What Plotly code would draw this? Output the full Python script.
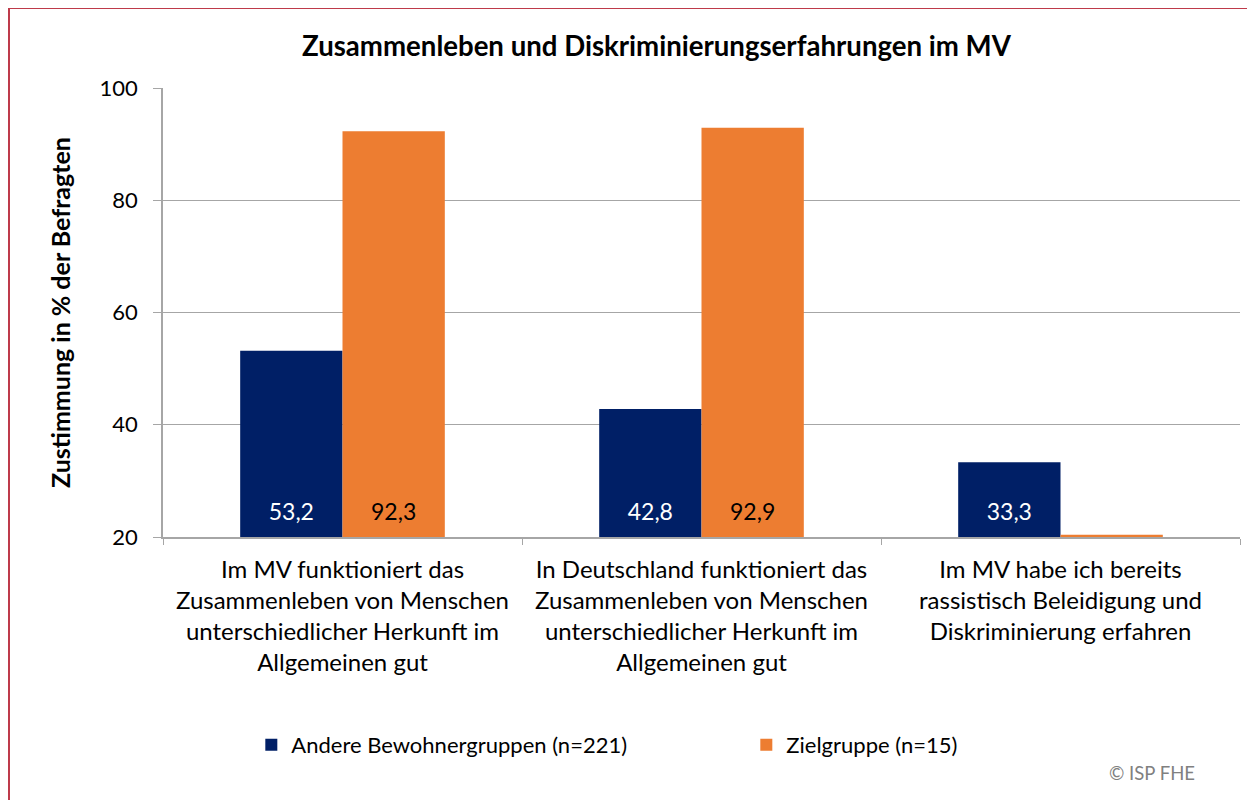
import plotly.graph_objects as go

NAVY = "#001f66"
ORANGE = "#ed7d31"
GRID = "#a6a6a6"
FONT = "Lato, 'Open Sans', sans-serif"

categories = [
    "Im MV funktioniert das<br>Zusammenleben von Menschen<br>unterschiedlicher Herkunft im<br>Allgemeinen gut",
    "In Deutschland funktioniert das<br>Zusammenleben von Menschen<br>unterschiedlicher Herkunft im<br>Allgemeinen gut",
    "Im MV habe ich bereits<br>rassistisch Beleidigung und<br>Diskriminierung erfahren",
]
andere = [53.2, 42.8, 33.3]
ziel = [92.3, 92.9, 0.0]
series_names = ["Andere Bewohnergruppen (n=221)", "Zielgruppe (n=15)"]

Y_MIN, Y_MAX = 20, 100
y_ticks = [20, 40, 60, 80, 100]


def fmt(v):
    return f"{v:.1f}".replace(".", ",")


def bar_trace(values, name, color, text_color):
    # Balken beginnen an der Achse (20); Werte darunter nur als dünne Linie wie in Excel
    heights = [max(v - Y_MIN, 0.4) for v in values]
    # kleine Leerzeile unten, damit die Beschriftung etwas über der Achse sitzt
    labels = [
        f"<span style='font-size:23px'>{fmt(v)}</span><br> " if v > Y_MIN else ""
        for v in values
    ]
    return go.Bar(
        x=categories,
        y=heights,
        base=Y_MIN,
        name=name,
        marker=dict(color=color, line=dict(width=0)),
        text=labels,
        textposition="inside",
        insidetextanchor="start",
        textangle=0,
        textfont=dict(family=FONT, size=9, color=text_color),
        customdata=values,
        hovertemplate="%{customdata}<extra>" + name + "</extra>",
    )


fig = go.Figure()
fig.add_trace(bar_trace(andere, series_names[0], NAVY, "white"))
fig.add_trace(bar_trace(ziel, series_names[1], ORANGE, "black"))

fig.update_layout(
    width=1247,
    height=792,
    template="plotly_white",
    paper_bgcolor="white",
    plot_bgcolor="white",
    font=dict(family=FONT, size=20, color="black"),
    margin=dict(l=155, r=15, t=80, b=263),
    barmode="group",
    bargap=0.43,
    bargroupgap=0,
    title=dict(
        text="<b>Zusammenleben und Diskriminierungserfahrungen im MV</b>",
        x=0.52,
        xanchor="center",
        y=0.951,
        yanchor="middle",
        font=dict(family=FONT, size=27.6, color="black"),
    ),
    legend=dict(
        orientation="h",
        x=0.082,
        xanchor="left",
        y=-0.463,
        yanchor="middle",
        font=dict(family=FONT, size=22, color="black"),
        entrywidth=450,
        entrywidthmode="pixels",
    ),
    showlegend=True,
)

fig.update_yaxes(
    range=[Y_MIN, Y_MAX],
    tickvals=y_ticks,
    tickfont=dict(family=FONT, size=22, color="black"),
    ticks="outside",
    ticklen=8,
    tickcolor=GRID,
    ticklabelstandoff=11,
    showgrid=True,
    gridcolor=GRID,
    gridwidth=1.2,
    showline=True,
    linecolor=GRID,
    linewidth=1.5,
    zeroline=False,
    title=dict(
        text="<b>Zustimmung in % der Befragten</b>",
        font=dict(family=FONT, size=25, color="black"),
        standoff=22,
    ),
)

fig.update_xaxes(
    tickfont=dict(family=FONT, size=24, color="black"),
    ticks="outside",
    tickson="boundaries",
    ticklen=6,
    tickcolor=GRID,
    ticklabelstandoff=10,
    showline=True,
    linecolor=GRID,
    linewidth=1.5,
    showgrid=False,
    tickangle=0,
)

# Copyright-Vermerk
fig.add_annotation(
    text="© ISP FHE",
    xref="paper",
    yref="paper",
    x=0.918,
    y=-0.525,
    xanchor="center",
    yanchor="middle",
    showarrow=False,
    font=dict(family=FONT, size=18.5, color="#808080"),
)

# roter Rahmen um die Grafik (rechts/unten außerhalb des Bildes)
fig.add_shape(
    type="rect",
    xref="paper",
    yref="paper",
    x0=-0.143,
    x1=1.2,
    y0=-1.0,
    y1=1.178,
    line=dict(color="#be3a4a", width=2),
    fillcolor="rgba(0,0,0,0)",
    layer="below",
)

fig.write_html("out.html")
